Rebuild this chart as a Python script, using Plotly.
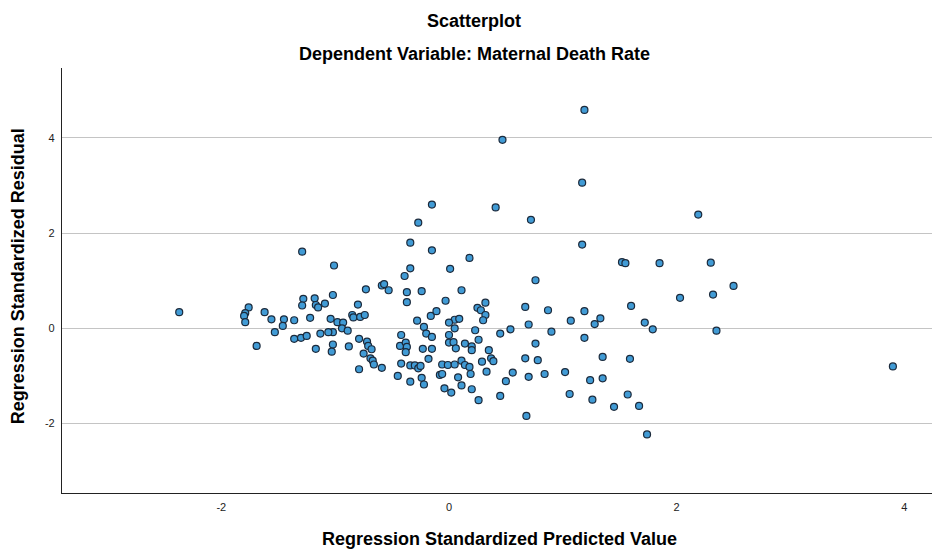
import plotly.graph_objects as go

# Regression standardized predicted values (x) and residuals (y)
pred = [
    -2.37, -1.76, -1.79, -1.80, -1.79, -1.69, -1.62, -1.56, -1.45, -1.46,
    -1.53, -1.36, -1.36, -1.30, -1.25, -1.22, -1.28, -1.29, -1.29,
    -0.15, -0.27, -1.01, -0.34, -0.15, 0.01, -0.34, -0.39, -0.59, -0.57,
    -0.53, -0.73, -0.37, -0.24, -0.37, -0.03, 0.11, -1.18, -1.17, -1.15,
    -1.09, -1.02, -0.80, -1.04, -0.98, -0.93, -0.85, -0.84, -0.78, -0.74,
    -0.28, -0.16, -0.11, 0.05,
    -1.02, -1.06, -0.94, -0.89, -1.13, -1.17, -1.02, -1.03, -0.88, -0.79,
    -0.72, -0.71, -0.68, -0.75, -0.69, -0.67, -0.66, -0.59, -0.79,
    -0.22, -0.20, -0.15, -0.42, -0.43, -0.38, -0.37, -0.38, -0.23, -0.15,
    -0.18, -0.42, -0.34, -0.30, -0.27, -0.25, -0.45, -0.34, -0.24, -0.22,
    -0.06, -0.01, 0.05, -0.08, -0.06, -0.04, 0.02, 0.00,
    0.09, 0.05, 0.00, 0.00, 0.04, 0.06, 0.08, 0.11,
    0.41, 0.72, 1.17, 0.18, 0.76, 0.25, 0.28, 0.32, 0.32, 0.30,
    0.67, 0.87, 1.19, 1.33, 1.28, 0.70, 1.07, 0.23, 0.45, 0.54,
    0.90, 1.19, 0.14, 0.20, 0.26, 0.35, 0.76,
    0.20, 0.29, 0.37, 0.39, 0.33, 0.67, 0.78, 0.56, 0.50, 0.70,
    0.84, 1.02, 1.24, 1.35, 0.11, 0.14, 0.18, 0.19, 0.20, 0.26,
    0.45, 1.06, 1.26, 0.68,
    2.19, 1.52, 1.55, 1.85, 2.30, 2.50, 2.03, 2.32, 1.60, 1.72,
    1.79, 2.35, 1.35, 1.59, 1.57, 1.45, 1.67, 1.74,
    1.19, 1.17, 0.47, 3.90,
]

resid = [
    0.34, 0.44, 0.32, 0.26, 0.13, -0.37, 0.34, 0.19, 0.19, 0.05,
    -0.08, 0.17, -0.22, -0.20, -0.16, 0.22, 0.62, 0.48, 1.61,
    2.60, 2.22, 1.32, 1.80, 1.64, 1.25, 1.26, 1.10, 0.90, 0.93,
    0.80, 0.82, 0.76, 0.78, 0.55, 0.58, 0.80, 0.63, 0.49, 0.44,
    0.52, 0.70, 0.50, 0.20, 0.13, 0.12, 0.28, 0.23, 0.24, 0.28,
    0.16, 0.26, 0.36, 0.18,
    -0.08, -0.08, 0.00, -0.05, -0.11, -0.43, -0.34, -0.49, -0.38, -0.22,
    -0.28, -0.37, -0.44, -0.53, -0.63, -0.68, -0.76, -0.83, -0.86,
    0.03, -0.11, -0.18, -0.14, -0.37, -0.30, -0.39, -0.50, -0.43, -0.43,
    -0.64, -0.74, -0.78, -0.78, -0.84, -0.79, -1.00, -1.12, -1.04, -1.18,
    -0.76, -0.77, -0.76, -0.98, -0.96, -1.26, -1.35, 0.12,
    0.20, 0.00, -0.14, -0.30, -0.29, -0.42, -1.03, -1.20,
    2.54, 2.28, 1.76, 1.48, 1.01, 0.43, 0.38, 0.54, 0.28, 0.17,
    0.45, 0.38, 0.36, 0.21, 0.09, 0.08, 0.16, -0.04, -0.11, -0.02,
    -0.07, -0.20, -0.32, -0.38, -0.24, -0.46, -0.32,
    -0.46, -0.70, -0.63, -0.69, -0.91, -0.63, -0.67, -0.93, -1.11, -1.02,
    -0.96, -0.92, -1.09, -1.05, -0.68, -0.77, -0.81, -0.96, -1.28, -1.51,
    -1.42, -1.38, -1.50, -1.84,
    2.39, 1.39, 1.37, 1.37, 1.38, 0.89, 0.64, 0.71, 0.47, 0.12,
    -0.02, -0.05, -0.60, -0.64, -1.39, -1.65, -1.63, -2.23,
    4.59, 3.06, 3.96, -0.80,
]

x_ticks = [-2, 0, 2, 4]
x_tick_labels = ["-2", "0", "2", "4"]
y_ticks = [-2, 0, 2, 4]
y_tick_labels = ["-2", "0", "2", "4"]

title_text = "Scatterplot"
subtitle_text = "Dependent Variable: Maternal Death Rate"
x_title = "Regression Standardized Predicted Value"
y_title = "Regression Standardized Residual"

FONT = "Liberation Sans"

fig = go.Figure()
fig.add_trace(go.Scatter(
    x=pred, y=resid, mode="markers",
    marker=dict(size=7, color="#419bd5",
                line=dict(color="#1b2a3c", width=1.2)),
    hoverinfo="x+y", showlegend=False,
))

fig.update_layout(
    width=940, height=550,
    margin=dict(l=54, r=13, t=60, b=65),
    paper_bgcolor="white", plot_bgcolor="white",
    font=dict(family=FONT, size=11, color="#222222"),
    xaxis=dict(
        range=[-3.40, 4.27], tickvals=x_ticks, ticktext=x_tick_labels,
        showgrid=False, zeroline=False,
        showline=True, linecolor="#222222", linewidth=1.2,
        ticks="outside", ticklen=4, tickcolor="rgba(0,0,0,0)",
        tickfont=dict(family=FONT, size=11, color="#222222"),
    ),
    yaxis=dict(
        range=[-3.46, 5.47], tickvals=y_ticks, ticktext=y_tick_labels,
        showgrid=True, gridcolor="#c4c4c4", gridwidth=1.2, zeroline=False,
        showline=True, linecolor="#222222", linewidth=1.2,
        ticks="outside", ticklen=4, tickcolor="rgba(0,0,0,0)",
        tickfont=dict(family=FONT, size=11, color="#222222"),
    ),
    annotations=[
        dict(text="<b>" + title_text + "</b>", xref="paper", yref="paper",
             x=0.4725, y=1.111, xanchor="center", yanchor="middle",
             showarrow=False, font=dict(family=FONT, size=18, color="black")),
        dict(text="<b>" + subtitle_text + "</b>", xref="paper", yref="paper",
             x=0.4725, y=1.033, xanchor="center", yanchor="middle",
             showarrow=False, font=dict(family=FONT, size=18, color="black")),
        dict(text="<b>" + x_title + "</b>", xref="paper", yref="paper",
             x=0.5006, y=-0.108, xanchor="center", yanchor="middle",
             showarrow=False, font=dict(family=FONT, size=18, color="black")),
        dict(text="<b>" + y_title + "</b>", xref="paper", yref="paper",
             x=-0.0504, y=0.51, xanchor="center", yanchor="middle",
             textangle=-90, showarrow=False,
             font=dict(family=FONT, size=18, color="black")),
    ],
)

fig.write_html("out.html")
